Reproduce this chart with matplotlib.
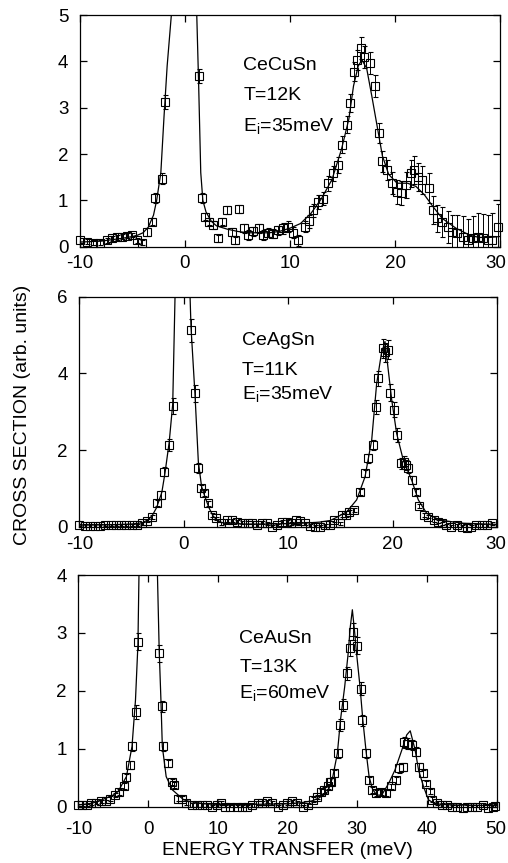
import matplotlib
matplotlib.use('Agg')
import matplotlib.pyplot as plt
import matplotlib.transforms as mtransforms

plt.rcParams['font.family'] = ['Liberation Sans', 'DejaVu Sans']
plt.rcParams['mathtext.fontset'] = 'custom'
plt.rcParams['mathtext.rm'] = 'Liberation Sans'
plt.rcParams['mathtext.it'] = 'Liberation Sans:italic'
plt.rcParams['axes.unicode_minus'] = False

# ---------------- Panel 1: CeCuSn ----------------
x1 = [-10.0, -9.36, -8.72, -8.08, -7.44, -6.96, -6.48, -6.0, -5.52, -5.04, -4.56, -4.08, -3.6, -3.13, -2.81, -2.23, -1.95,
      1.34, 1.6, 1.92, 2.3, 2.7, 3.1, 3.5, 4.0, 4.45, 4.8,
      5.1, 5.6, 6.0, 6.5, 7.0, 7.4, 7.9, 8.4, 8.9, 9.3,
      9.82, 10.3, 10.78, 11.4, 11.8, 12.2, 12.7, 13.17, 13.65, 14.13,
      14.55, 14.93, 15.4, 15.73, 16.05, 16.37, 16.78, 17.0, 17.64, 18.12,
      18.45, 18.76, 19.24, 19.72, 20.2, 20.6, 21.0, 21.48, 21.8, 22.21,
      22.6, 23.24, 23.62, 24.04, 24.52, 25.0, 25.47, 25.95, 26.43, 26.91,
      27.39, 27.87, 28.35, 28.83, 29.24, 29.85]
y1 = [0.14, 0.11, 0.09, 0.09, 0.14, 0.18, 0.2, 0.22, 0.24, 0.25, 0.14, 0.09, 0.32, 0.54, 1.05, 1.47, 3.13,
      3.68, 1.05, 0.65, 0.54, 0.47, 0.18, 0.54, 0.79, 0.32, 0.14,
      0.81, 0.40, 0.25, 0.33, 0.40, 0.25, 0.30, 0.28, 0.35, 0.40,
      0.43, 0.30, 0.14, 0.43, 0.55, 0.79, 0.97, 1.04, 1.37, 1.58,
      1.76, 2.2, 2.63, 3.1, 3.78, 4.03, 4.28, 4.1, 3.96, 3.46,
      2.45, 1.84, 1.66, 1.37, 1.19, 1.15, 1.33, 1.58, 1.66, 1.51,
      1.44, 1.26, 0.79, 0.61, 0.54, 0.43, 0.32, 0.29, 0.22, 0.14,
      0.18, 0.22, 0.18, 0.14, 0.14, 0.43]
e1 = [0.05, 0.05, 0.05, 0.05, 0.05, 0.05, 0.05, 0.05, 0.05, 0.05, 0.05, 0.05, 0.08, 0.08, 0.1, 0.12, 0.15,
      0.15, 0.1, 0.08, 0.08, 0.08, 0.08, 0.08, 0.08, 0.08, 0.08,
      0.08, 0.1, 0.1, 0.1, 0.1, 0.1, 0.1, 0.1, 0.1, 0.12,
      0.12, 0.12, 0.12, 0.12, 0.14, 0.14, 0.15, 0.15, 0.16, 0.16,
      0.17, 0.18, 0.18, 0.2, 0.2, 0.22, 0.24, 0.24, 0.24, 0.24,
      0.22, 0.22, 0.22, 0.24, 0.26, 0.26, 0.28, 0.3, 0.3, 0.3,
      0.3, 0.32, 0.3, 0.3, 0.32, 0.34, 0.36, 0.4, 0.45, 0.45,
      0.48, 0.5, 0.52, 0.55, 0.58, 0.5]
fx1 = [-10, -8, -6, -5, -4.5, -4, -3.5, -3.0, -2.7, -2.3, -2.0, -1.7, -1.3, -1.2, 1.0, 1.12, 1.3, 1.5, 1.7, 2.0,
       2.5, 3, 4, 5, 6, 7, 8, 9, 10, 11, 12, 13, 14, 14.9, 15.6, 16.05, 16.5, 16.85, 17.3, 17.8,
       18.3, 18.8, 19.4, 20.2, 21.2, 22.0, 22.8, 23.6, 24.5, 25.8, 27.1, 28, 29, 30]
fy1 = [0.1, 0.12, 0.18, 0.22, 0.25, 0.3, 0.42, 0.68, 1.0, 1.6, 2.8, 3.9, 5.0, 5.6, 5.6, 5.0, 3.5, 1.6, 1.0, 0.75,
       0.55, 0.45, 0.38, 0.33, 0.3, 0.3, 0.3, 0.33, 0.4, 0.5, 0.72, 1.04, 1.45, 2.1, 2.75, 3.47, 3.9, 4.03, 3.85, 3.24,
       2.6, 1.96, 1.56, 1.37, 1.37, 1.3, 1.12, 0.87, 0.61, 0.4, 0.25, 0.2, 0.2, 0.22]

# ---------------- Panel 2: CeAgSn ----------------
x2 = [-10.0, -9.5, -9.0, -8.5, -8.0, -7.5, -7.0, -6.5, -6.0, -5.5, -5.0, -4.5, -4.03, -3.55, -3.07, -2.6, -2.15, -1.87, -1.42, -1.06,
      0.69, 1.07, 1.39, 1.65, 1.96, 2.35, 2.67, 3.1, 3.6, 4.1,
      4.6, 5.1, 5.6, 6.1, 6.5, 7.0, 7.5, 8.0, 8.4, 8.9,
      9.4, 9.9, 10.3, 10.7, 11.1, 11.6, 12.1, 12.6, 13.0, 13.5,
      14.0, 14.4, 14.9,
      15.1, 15.5, 15.8, 16.3, 16.86, 17.34, 17.66, 18.08, 18.4, 18.6,
      19.09, 19.3, 19.5, 19.73, 20.15, 20.43, 20.75, 21.05, 21.25, 21.5,
      21.8, 22.2, 22.5, 22.98, 23.4, 23.9, 24.3, 24.7, 25.1, 25.6,
      26.1, 26.6, 27.1, 27.5, 28.0, 28.5, 29.0, 29.5]
y2 = [0.04, 0.03, 0.03, 0.03, 0.03, 0.04, 0.04, 0.05, 0.04, 0.05, 0.04, 0.05, 0.09, 0.16, 0.25, 0.61, 0.83, 1.43, 2.13, 3.15,
      5.13, 3.48, 1.52, 1.0, 0.87, 0.61, 0.30, 0.22, 0.09, 0.17,
      0.17, 0.13, 0.10, 0.10, 0.10, 0.04, 0.10, 0.09, 0.0, 0.04,
      0.13, 0.13, 0.09, 0.17, 0.16, 0.09, 0.03, 0.0, 0.0, 0.04,
      0.04, 0.17, 0.09,
      0.30, 0.30, 0.39, 0.44, 0.91, 1.39, 1.78, 2.13, 3.13, 3.87,
      4.65, 4.55, 4.62, 3.5, 3.05, 2.39, 1.65, 1.70, 1.61, 1.52,
      1.22, 0.91, 0.54, 0.30, 0.26, 0.17, 0.13, 0.09, 0.04, 0.0,
      0.04, 0.0, -0.04, 0.0, 0.04, 0.04, 0.04, 0.09]
e2 = [0.03, 0.03, 0.03, 0.03, 0.03, 0.03, 0.03, 0.03, 0.03, 0.03, 0.03, 0.03, 0.04, 0.05, 0.06, 0.08, 0.1, 0.12, 0.15, 0.22,
      0.3, 0.22, 0.13, 0.1, 0.08, 0.06, 0.05, 0.04, 0.04, 0.04,
      0.04, 0.04, 0.04, 0.04, 0.04, 0.04, 0.04, 0.04, 0.04, 0.04,
      0.04, 0.04, 0.04, 0.04, 0.04, 0.04, 0.04, 0.04, 0.04, 0.04,
      0.04, 0.04, 0.04,
      0.04, 0.04, 0.05, 0.05, 0.07, 0.1, 0.12, 0.14, 0.18, 0.2,
      0.25, 0.25, 0.25, 0.22, 0.2, 0.18, 0.14, 0.14, 0.13, 0.12,
      0.1, 0.08, 0.06, 0.05, 0.04, 0.04, 0.04, 0.04, 0.04, 0.04,
      0.04, 0.04, 0.04, 0.04, 0.04, 0.04, 0.04, 0.04]
fx2 = [-10, -7, -5, -4, -3.4, -3.0, -2.6, -2.1, -1.8, -1.4, -1.06, -0.84, -0.7, 0.5, 0.6, 0.69, 1.07, 1.39, 1.7, 2.0,
       2.4, 2.8, 3.3, 4, 6, 8, 10, 12, 13, 14, 14.6, 15.6, 16.54, 17.34, 17.98, 18.45, 18.9, 19.25, 19.9, 20.37,
       21.0, 21.8, 22.44, 23.24, 24.5, 26.75, 30]
fy2 = [0.04, 0.05, 0.07, 0.1, 0.18, 0.3, 0.5, 0.9, 1.4, 2.2, 3.2, 6.0, 6.6, 6.6, 6.0, 5.2, 3.45, 1.7, 1.05, 0.8,
       0.5, 0.28, 0.14, 0.08, 0.07, 0.07, 0.08, 0.1, 0.12, 0.16, 0.24, 0.39, 0.7, 1.3, 2.26, 3.72, 4.5, 4.83, 3.3, 2.43,
       1.74, 1.22, 0.7, 0.35, 0.17, 0.09, 0.06]

# ---------------- Panel 3: CeAuSn ----------------
x3 = [-10.1, -9.4, -8.8, -8.2, -7.5, -6.75, -6.0, -5.5, -4.8, -4.1, -3.5, -3.1, -2.65, -2.3, -1.75, -1.4,
      1.6, 2.0, 2.17, 2.9, 3.37, 3.76, 4.3, 4.8, 5.5, 6.3,
      7.0, 7.7, 8.4, 9.2, 9.9, 10.4, 11.1, 11.8, 12.8, 13.5,
      14.2, 14.9, 15.7, 16.4, 17.1, 17.8, 18.6, 19.3, 20.0, 20.7,
      21.4, 22.2, 22.9, 23.6, 24.3, 24.8, 25.3, 25.8, 26.1, 26.3,
      26.6, 27.2, 27.6, 28.0, 28.5, 28.9, 29.4, 30.0, 30.5, 30.7,
      31.3, 31.7, 32.1, 32.7, 33.4, 34.1, 34.8, 35.5, 36.0, 36.5,
      36.7, 37.2, 37.9, 38.4, 38.8, 39.4, 39.9, 40.4, 40.7, 41.4,
      42.2, 42.9, 43.6, 44.3, 45.1, 45.8, 46.5, 47.2, 48.0, 48.7,
      49.4, 49.8]
y3 = [0.03, 0.03, 0.03, 0.06, 0.07, 0.09, 0.09, 0.14, 0.2, 0.26, 0.36, 0.51, 0.72, 1.04, 1.64, 2.85,
      2.65, 1.73, 1.04, 0.75, 0.43, 0.38, 0.14, 0.14, 0.06, 0.03,
      0.03, 0.03, 0.03, 0.0, 0.03, 0.06, 0.0, 0.0, 0.0, 0.0,
      0.0, 0.03, 0.06, 0.06, 0.09, 0.06, 0.0, 0.03, 0.06, 0.09,
      0.06, 0.0, 0.03, 0.12, 0.17, 0.26, 0.29, 0.35, 0.43, 0.43,
      0.58, 0.92, 1.41, 1.76, 2.30, 2.74, 3.02, 2.78, 2.04, 1.49,
      0.92, 0.46, 0.29, 0.23, 0.26, 0.24, 0.35, 0.46, 0.66, 0.69,
      1.12, 1.09, 1.07, 0.95, 0.69, 0.58, 0.40, 0.26, 0.12, 0.06,
      0.03, 0.03, 0.0, 0.0, -0.03, 0.0, 0.0, 0.0, 0.03, -0.03,
      0.0, 0.02]
e3 = [0.02, 0.02, 0.02, 0.03, 0.03, 0.03, 0.03, 0.04, 0.04, 0.05, 0.05, 0.06, 0.07, 0.08, 0.12, 0.15,
      0.15, 0.1, 0.08, 0.06, 0.05, 0.05, 0.04, 0.04, 0.03, 0.03,
      0.03, 0.03, 0.03, 0.03, 0.03, 0.03, 0.03, 0.03, 0.03, 0.03,
      0.03, 0.03, 0.03, 0.03, 0.03, 0.03, 0.03, 0.03, 0.03, 0.03,
      0.03, 0.03, 0.03, 0.04, 0.04, 0.05, 0.05, 0.05, 0.06, 0.06,
      0.06, 0.08, 0.1, 0.1, 0.12, 0.14, 0.15, 0.15, 0.12, 0.1,
      0.08, 0.06, 0.05, 0.05, 0.05, 0.05, 0.05, 0.06, 0.07, 0.07,
      0.09, 0.09, 0.09, 0.08, 0.07, 0.06, 0.05, 0.04, 0.04, 0.03,
      0.03, 0.03, 0.03, 0.03, 0.03, 0.03, 0.03, 0.03, 0.03, 0.03,
      0.03, 0.03]
fx3 = [-10, -8, -6.2, -5, -4.3, -3.1, -2.3, -1.8, -1.45, -1.3, -1.2, 1.25, 1.35, 1.6, 1.85, 2.05, 2.6, 3.5, 5.1, 6,
       8, 10, 15, 20, 22, 23.5, 24.5, 25.8, 26.5, 27.15, 27.6, 28.2, 28.7, 29.0, 29.3, 29.6, 29.9, 30.4, 30.8, 31.3,
       31.7, 32.2, 32.8, 33.5, 34.5, 35.4, 36.4, 37.1, 37.6, 38.3, 38.8, 39.5, 40.2, 41.0, 42, 44, 50]
fy3 = [0.03, 0.06, 0.14, 0.2, 0.26, 0.52, 1.04, 1.84, 2.8, 4.0, 4.5, 4.5, 4.0, 2.7, 1.84, 1.04, 0.52, 0.29, 0.12, 0.09,
       0.05, 0.04, 0.04, 0.05, 0.07, 0.1, 0.15, 0.26, 0.52, 0.92, 1.5, 2.07, 2.65, 3.1, 3.40, 3.05, 2.65, 2.07, 1.5, 0.92,
       0.52, 0.3, 0.2, 0.2, 0.4, 0.63, 0.98, 1.24, 1.31, 0.98, 0.63, 0.35, 0.12, 0.06, 0.04, 0.03, 0.02]

xticks12 = [-10, 0, 10, 20, 30]
xticks3 = [-10, 0, 10, 20, 30, 40, 50]
yticks1 = [0, 1, 2, 3, 4, 5]
yticks2 = [0, 2, 4, 6]
yticks3 = [0, 1, 2, 3, 4]

labels1 = ['CeCuSn', 'T=12K', r'E$_\mathrm{i}$=35meV']
labels2 = ['CeAgSn', 'T=11K', r'E$_\mathrm{i}$=35meV']
labels3 = ['CeAuSn', 'T=13K', r'E$_\mathrm{i}$=60meV']

W, H = 508, 863
fig = plt.figure(figsize=(W / 100, H / 100), dpi=100)


def box(l, t, r, b):
    return [l / W, 1 - b / H, (r - l) / W, (b - t) / H]


panels = [
    dict(rect=box(80, 15, 500, 246.7), x=x1, y=y1, e=e1, fx=fx1, fy=fy1, xlim=(-10, 30), ylim=(0, 5),
         xt=xticks12, yt=yticks1, lab=labels1, tx=243.3, tb=[70, 100, 130.7], xpad=6, lastshift=-4),
    dict(rect=box(79.3, 296.7, 497.3, 526.7), x=x2, y=y2, e=e2, fx=fx2, fy=fy2, xlim=(-10, 30), ylim=(0, 6),
         xt=xticks12, yt=yticks2, lab=labels2, tx=241.7, tb=[345, 375, 399.3], xpad=7, lastshift=-2),
    dict(rect=box(78.3, 575, 496.7, 806.7), x=x3, y=y3, e=e3, fx=fx3, fy=fy3, xlim=(-10, 50), ylim=(0, 4),
         xt=xticks3, yt=yticks3, lab=labels3, tx=239.3, tb=[643.3, 671.7, 698.3], xpad=10.5, lastshift=-1),
]

for p in panels:
    ax = fig.add_axes(p['rect'])
    ax.plot(p['fx'], p['fy'], color='black', lw=0.9, zorder=2)
    dl, caps, bars = ax.errorbar(p['x'], p['y'], yerr=p['e'], fmt='s', ms=5.4, mfc='none', mec='black',
                                 mew=0.8, ecolor='black', elinewidth=0.7, capsize=1.8, capthick=0.7, zorder=3)
    dl.set_clip_on(False)
    ax.set_xlim(*p['xlim'])
    ax.set_ylim(*p['ylim'])
    ax.set_xticks(p['xt'])
    ax.set_yticks(p['yt'])
    ax.tick_params(direction='in', top=True, right=True, length=5, width=0.9, labelsize=13.5)
    ax.tick_params(axis='y', pad=8.4)
    ax.tick_params(axis='x', pad=p['xpad'])
    for s in ax.spines.values():
        s.set_linewidth(0.9)
    last = ax.get_xticklabels()[-1]
    last.set_transform(last.get_transform() +
                       mtransforms.ScaledTranslation(p['lastshift'] / 100, 0, fig.dpi_scale_trans))
    for lab, b in zip(p['lab'], p['tb']):
        fig.text(p['tx'] / W, 1 - b / H, lab, fontsize=14, ha='left', va='baseline')

fig.text(287.5 / W, 1 - 855 / H, 'ENERGY TRANSFER (meV)', fontsize=14, ha='center', va='baseline')
fig.text(26.7 / W, 1 - 415 / H, 'CROSS SECTION (arb. units)', fontsize=14, ha='center', va='baseline',
         rotation=90, rotation_mode='anchor')

fig.savefig('out.png', dpi=100)
